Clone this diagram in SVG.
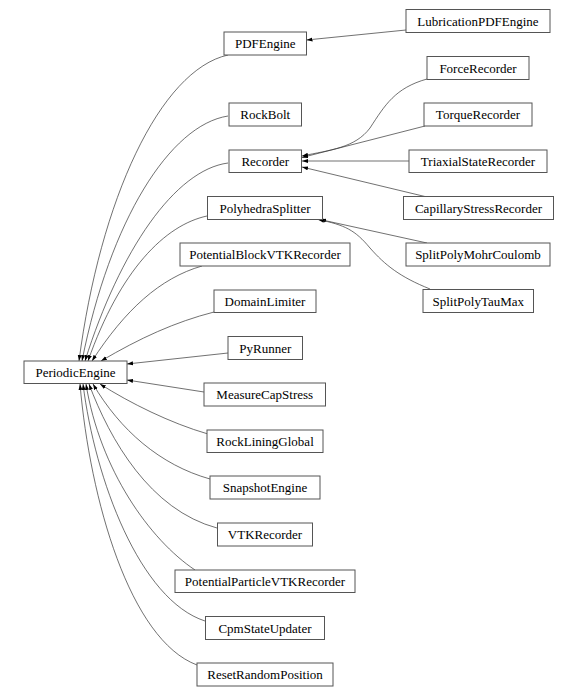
<svg xmlns="http://www.w3.org/2000/svg" width="578" height="696" viewBox="0 0 578 696">
<defs>
<style>
.n rect{fill:#fff;stroke:#555;stroke-width:1}
.n text{font-family:"Liberation Serif","Times New Roman",serif;font-size:13px;text-anchor:middle;fill:#000}
.e path{fill:none;stroke:#333;stroke-width:0.7;marker-end:url(#ah)}
</style>
<marker id="ah" viewBox="0 0 6 4.4" refX="6" refY="2.2" markerWidth="6" markerHeight="4.4" markerUnits="userSpaceOnUse" orient="auto">
<path d="M0,0.2 L6,2.2 L0,4.2 z" fill="#000"/>
</marker>
</defs>
<rect width="578" height="696" fill="#fff"/>
<g class="e" id="edges">
<path d="M228,55 C160,70 100,200 79,361"/>
<path d="M228,116 C170,125 110,220 82,361"/>
<path d="M228,163 C175,170 120,250 85,361"/>
<path d="M207,216 C165,225 120,270 88,361"/>
<path d="M202,266 C160,278 125,310 92,361"/>
<path d="M214,312 C175,322 140,338 101,361"/>
<path d="M228,353 L127,364"/>
<path d="M204,392 L127,380"/>
<path d="M208,434 C170,423 130,403 100,384"/>
<path d="M210,479 C160,465 120,430 93,384"/>
<path d="M217,528 C150,510 110,440 89,384"/>
<path d="M195,570 C150,540 100,470 86,384"/>
<path d="M205,621 C140,600 95,480 83,384"/>
<path d="M197,665 C130,640 90,500 80,384"/>
<path d="M406,30 L306.5,40"/>
<path d="M427,79 C395,88 385,105 370,128 C355,148 330,150 302,156"/>
<path d="M425,126 L302,157.5"/>
<path d="M409,161 L302,161"/>
<path d="M427,197 L302,167"/>
<path d="M427,243 L320,219.5"/>
<path d="M430,289 C400,277 385,265 370,248 C355,230 345,225 318,219.5"/>
</g>
<g class="n" id="PeriodicEngine"><rect x="24" y="361" width="103" height="22.5"/><text x="75.5" y="376.5">PeriodicEngine</text></g>
<g class="n" id="PDFEngine"><rect x="224" y="32" width="82.5" height="23"/><text x="265.25" y="48">PDFEngine</text></g>
<g class="n" id="RockBolt"><rect x="229" y="103" width="72.5" height="23"/><text x="265.25" y="119">RockBolt</text></g>
<g class="n" id="Recorder"><rect x="229" y="150" width="72.5" height="22.5"/><text x="265.25" y="165.5">Recorder</text></g>
<g class="n" id="PolyhedraSplitter"><rect x="207.5" y="196.5" width="115" height="23"/><text x="265" y="212.5">PolyhedraSplitter</text></g>
<g class="n" id="PotentialBlockVTKRecorder"><rect x="180" y="243" width="170" height="23"/><text x="265" y="259">PotentialBlockVTKRecorder</text></g>
<g class="n" id="DomainLimiter"><rect x="214" y="290" width="102" height="22.5"/><text x="265" y="305.5">DomainLimiter</text></g>
<g class="n" id="PyRunner"><rect x="228" y="336.5" width="74.5" height="23"/><text x="265.25" y="352.5">PyRunner</text></g>
<g class="n" id="MeasureCapStress"><rect x="204" y="383" width="121.5" height="23"/><text x="264.75" y="399">MeasureCapStress</text></g>
<g class="n" id="RockLiningGlobal"><rect x="207" y="430" width="116" height="22.5"/><text x="265" y="445.5">RockLiningGlobal</text></g>
<g class="n" id="SnapshotEngine"><rect x="210" y="476" width="110" height="23"/><text x="265" y="492">SnapshotEngine</text></g>
<g class="n" id="VTKRecorder"><rect x="217.5" y="523" width="95" height="23"/><text x="265" y="539">VTKRecorder</text></g>
<g class="n" id="PotentialParticleVTKRecorder"><rect x="175" y="570" width="180" height="22.5"/><text x="265" y="585.5">PotentialParticleVTKRecorder</text></g>
<g class="n" id="CpmStateUpdater"><rect x="205.5" y="616.5" width="119" height="23"/><text x="265" y="632.5">CpmStateUpdater</text></g>
<g class="n" id="ResetRandomPosition"><rect x="197" y="663" width="136" height="23"/><text x="265" y="679">ResetRandomPosition</text></g>
<g class="n" id="LubricationPDFEngine"><rect x="406" y="9.5" width="144" height="23"/><text x="478" y="25.5">LubricationPDFEngine</text></g>
<g class="n" id="ForceRecorder"><rect x="427" y="56.5" width="102" height="23"/><text x="478" y="72.5">ForceRecorder</text></g>
<g class="n" id="TorqueRecorder"><rect x="424" y="103" width="108" height="23"/><text x="478" y="119">TorqueRecorder</text></g>
<g class="n" id="TriaxialStateRecorder"><rect x="409" y="150" width="138" height="22.5"/><text x="478" y="165.5">TriaxialStateRecorder</text></g>
<g class="n" id="CapillaryStressRecorder"><rect x="403.5" y="196.5" width="150" height="23"/><text x="478.5" y="212.5">CapillaryStressRecorder</text></g>
<g class="n" id="SplitPolyMohrCoulomb"><rect x="406" y="243" width="144" height="23"/><text x="478" y="259">SplitPolyMohrCoulomb</text></g>
<g class="n" id="SplitPolyTauMax"><rect x="423" y="289.5" width="110.5" height="23"/><text x="478.25" y="305.5">SplitPolyTauMax</text></g>
</svg>
